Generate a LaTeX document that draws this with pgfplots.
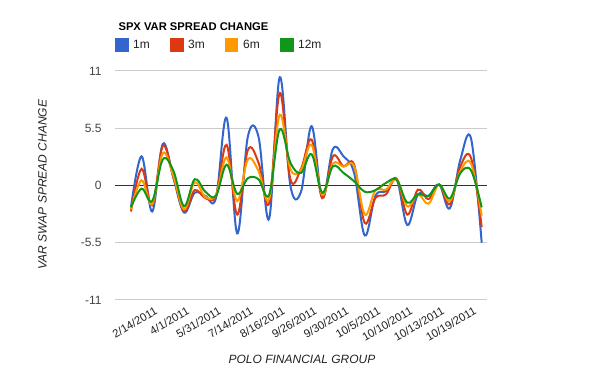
\documentclass[border=0pt]{standalone}
\usepackage{fontspec}
\setmainfont{Liberation Sans}
\usepackage{pgfplots}
\usepackage{pgfplotstable}
\pgfplotsset{compat=1.18}
\definecolor{c1}{HTML}{3366CC}
\definecolor{c2}{HTML}{DC3912}
\definecolor{c3}{HTML}{FF9900}
\definecolor{c4}{HTML}{109618}
\definecolor{gridc}{HTML}{CCCCCC}
\definecolor{txt}{HTML}{222222}
\definecolor{tickc}{HTML}{444444}

\pgfplotstableread{
i  blue  red   orange green
1  -2.1  -2.5  -2.3   -2.1
2   2.8   1.6   0.5   -0.3
3  -2.5  -1.9  -1.8   -1.5
4   4.0   3.8   3.1    2.5
5   0.7   0.8   0.9    1.4
6  -2.6  -2.45 -2.3   -2.0
7  -0.7  -0.45  0.3    0.6
8  -1.0  -1.2  -1.1   -0.6
9  -1.2  -1.0  -0.9   -1.0
10  6.5   3.9   2.7    2.0
11 -4.6  -2.8  -1.5   -0.8
12  4.7   3.4   2.5    0.7
13  4.7   2.2   1.4    0.6
14 -3.2  -1.7  -1.3   -0.9
15 10.4   8.9   6.8    5.4
16  0.0   0.6   1.6    2.2
17 -0.6   1.6   1.5    1.2
18  5.7   4.4   3.9    3.0
19 -1.2  -1.2  -0.9   -0.7
20  3.5   2.8   2.1    1.85
21  2.8   1.85  1.8    1.2
22  1.2   2.0   1.85   0.4
23 -4.8  -3.6  -2.8   -0.6
24 -1.0  -1.2  -0.45  -0.45
25 -0.55 -0.85 -0.4    0.25
26  0.6   0.65  0.6    0.55
27 -3.8  -2.8  -2.0   -1.65
28 -0.85 -0.4  -0.85  -0.85
29 -1.0  -1.3  -1.75  -1.0
30  0.1   0.1   0.1    0.1
31 -2.2  -1.8  -1.5   -1.25
32  2.5   1.85  1.4    1.2
33  4.5   2.65  2.1    1.45
34 -5.5  -4.0  -2.9   -2.1
}\data

\begin{document}
\begin{tikzpicture}[x=1pt,y=1pt]
\path[use as bounding box] (0,0) rectangle (600,371);
\begin{axis}[
  at={(115pt,71pt)}, anchor=south west,
  scale only axis, width=372pt, height=229pt,
  xmin=-0.5, xmax=34.5, ymin=-11, ymax=11,
  axis line style={draw=none},
  major tick length=0pt,
  ytick={-11,-5.5,0,5.5,11},
  yticklabels={-11,-5.5,0,5.5,11},
  ymajorgrids, grid style={gridc, line width=1pt},
  xtick={3,6,...,33},
  xticklabels={2/14/2011,4/1/2011,5/31/2011,7/14/2011,8/16/2011,9/26/2011,9/30/2011,10/5/2011,10/10/2011,10/13/2011,10/19/2011},
  xticklabel style={rotate=30, anchor=north east, inner sep=0pt, xshift=-1.5pt, yshift=-6.5pt, font=\fontsize{11.3}{13}\selectfont, text=txt},
  yticklabel style={anchor=east, inner sep=0pt, xshift=-13.3pt, font=\fontsize{12}{14}\selectfont, text=tickc},
  legend columns=4,
  legend cell align=left,
  legend style={at={(0,1)}, anchor=south west, yshift=19.3pt, draw=none, fill=none,
    inner sep=0pt, outer sep=0pt, row sep=0pt, column sep=0pt,
    font=\fontsize{12}{14}\selectfont, text=txt,
    nodes={inner sep=0pt, outer sep=0pt}},
  legend image code/.code={\fill[#1] (0pt,-5.75pt) rectangle (11.5pt,5.75pt); \path[draw=none,fill=none] (0pt,0pt) -- (17.1pt,0pt);},
  every axis plot/.append style={line width=2pt, smooth, tension=0.6},
]
\draw[color=black!80, line width=1pt] (axis cs:-0.5,0) -- (axis cs:34.5,0);
\addplot[c1] table[x=i, y=blue] {\data};
\addlegendentry{\makebox[36.9pt][l]{1m}}
\addplot[c2] table[x=i, y=red] {\data};
\addlegendentry{\makebox[36.9pt][l]{3m}}
\addplot[c3] table[x=i, y=orange] {\data};
\addlegendentry{\makebox[36.9pt][l]{6m}}
\addplot[c4] table[x=i, y=green] {\data};
\addlegendentry{\makebox[36.9pt][l]{12m}}
\end{axis}
\node[anchor=base west, font=\bfseries\fontsize{11.2}{13}\selectfont, text=black] at (115,340.3) {SPX VAR SPREAD CHANGE};
\node[anchor=base, font=\itshape\fontsize{12}{14}\selectfont, text=txt] at (302,7.7) {POLO FINANCIAL GROUP};
\node[anchor=base, rotate=90, font=\itshape\fontsize{12}{14}\selectfont, text=txt] at (46.7,186.3) {VAR SWAP SPREAD CHANGE};
\end{tikzpicture}
\end{document}
